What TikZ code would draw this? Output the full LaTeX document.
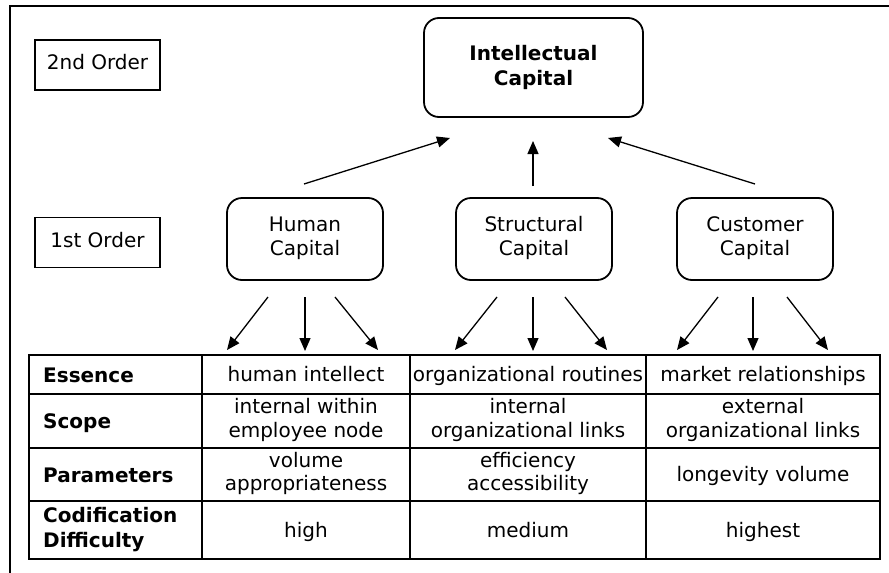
\documentclass[tikz,border=0pt]{standalone}
\usepackage{fontspec}
\setmainfont{DejaVu Sans}
\usetikzlibrary{arrows.meta}
\begin{document}
\begin{tikzpicture}[x=1pt,y=-1pt,
  txt/.style={font=\fontsize{20}{23.5}\selectfont, inner sep=0pt, align=center},
  one/.style={yshift=-2.5pt},
  hdr/.style={font=\fontsize{20}{25}\selectfont\bfseries, inner sep=0pt, align=left, anchor=west},
  capbox/.style={draw, rounded corners=15pt, line width=1.8pt, align=center, inner sep=0pt,
     font=\fontsize{20}{23.5}\selectfont},
  lblbox/.style={draw, line width=1.6pt, inner sep=0pt, minimum width=125pt, minimum height=50pt,
     font=\fontsize{20}{24}\selectfont},
  arr/.style={line width=1.3pt, -{Triangle[length=13pt,width=11pt]}},
  tbl/.style={line width=1.6pt},
  frame/.style={line width=2pt}]
\useasboundingbox (0,0) rectangle (889,573);
% frame
\draw[frame] (10,573) -- (10,6) -- (889,6);
% order labels
\node[lblbox] (o2) at (97.5,65) {\raisebox{-2.5pt}{2nd Order\strut}};
\node[lblbox] (o1) at (97.5,242.5) {\raisebox{-2.5pt}{1st Order\strut}};
% capital boxes
\node[capbox, minimum width=219pt, minimum height=99pt,
      font=\fontsize{20}{25}\selectfont\bfseries] (ic) at (533.5,67.5) {Intellectual\strut\\Capital\strut};
\node[capbox, minimum width=156pt, minimum height=82pt] (hc) at (305,239) {Human\strut\\Capital\strut};
\node[capbox, minimum width=156pt, minimum height=82pt] (sc) at (534,239) {Structural\strut\\Capital\strut};
\node[capbox, minimum width=156pt, minimum height=82pt] (cc) at (755,239) {Customer\strut\\Capital\strut};
% arrow end points
\coordinate (hu0) at (304,184); \coordinate (hu1) at (450,138);
\coordinate (su0) at (533,186); \coordinate (su1) at (533,141);
\coordinate (cu0) at (755,184); \coordinate (cu1) at (608,138);
\draw[arr] (hu0) -- (hu1);
\draw[arr] (su0) -- (su1);
\draw[arr] (cu0) -- (cu1);
% down arrows
\coordinate (ha0) at (268,297); \coordinate (ha1) at (227,350);
\coordinate (hb0) at (305,297); \coordinate (hb1) at (305,351);
\coordinate (hc0) at (335,297); \coordinate (hc1) at (378,350);
\coordinate (sa0) at (497,297); \coordinate (sa1) at (455,350);
\coordinate (sb0) at (533,297); \coordinate (sb1) at (533,351);
\coordinate (sc0) at (565,297); \coordinate (sc1) at (607,350);
\coordinate (ca0) at (718,297); \coordinate (ca1) at (677,350);
\coordinate (cb0) at (753,297); \coordinate (cb1) at (753,351);
\coordinate (cc0) at (787,297); \coordinate (cc1) at (828,350);
\foreach \a in {ha,hb,hc,sa,sb,sc,ca,cb,cc}{\draw[arr] (\a0) -- (\a1);}
% table grid
\draw[tbl] (29,355) rectangle (880,559);
\draw[tbl] (29,394) -- (880,394);
\draw[tbl] (29,448) -- (880,448);
\draw[tbl] (29,501) -- (880,501);
\draw[tbl] (202,355) -- (202,559);
\draw[tbl] (410,355) -- (410,559);
\draw[tbl] (646,355) -- (646,559);
% headers
\node[hdr, one] (h1) at (43,374.5) {Essence\strut};
\node[hdr, one] (h2) at (43,421) {Scope\strut};
\node[hdr, one] (h3) at (43,474.5) {Parameters\strut};
\node[hdr] (h4) at (43,530) {Codification\strut\\Difficulty\strut};
% cells
\node[txt, one] (e1) at (306,374.5) {human intellect\strut};
\node[txt, one] (e2) at (528,374.5) {organizational routines\strut};
\node[txt, one] (e3) at (763,374.5) {market relationships\strut};
\node[txt] (s1) at (306,421) {internal within\strut\\employee node\strut};
\node[txt] (s2) at (528,421) {internal\strut\\organizational links\strut};
\node[txt] (s3) at (763,421) {external\strut\\organizational links\strut};
\node[txt] (p1) at (306,474.5) {volume\strut\\appropriateness\strut};
\node[txt] (p2) at (528,474.5) {efficiency\strut\\accessibility\strut};
\node[txt, one] (p3) at (763,474.5) {longevity volume\strut};
\node[txt, one] (c1) at (306,530) {high\strut};
\node[txt, one] (c2) at (528,530) {medium\strut};
\node[txt, one] (c3) at (763,530) {highest\strut};
\end{tikzpicture}
\end{document}
